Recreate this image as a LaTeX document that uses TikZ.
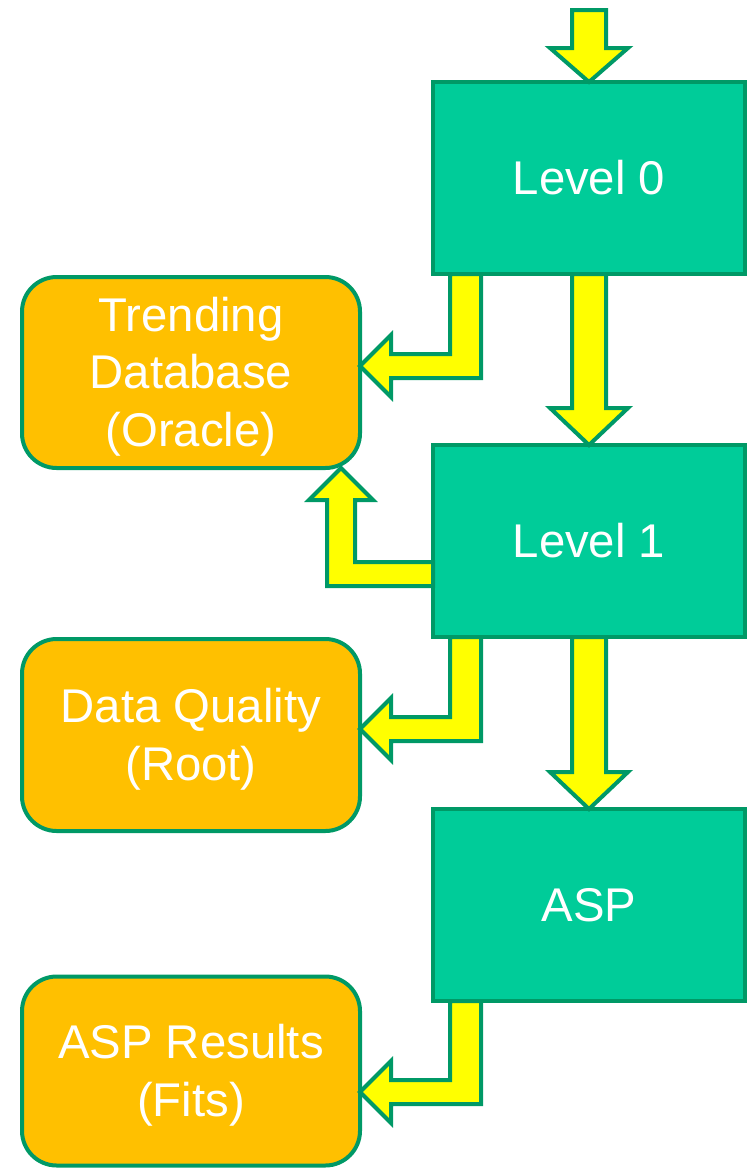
\documentclass[tikz,border=0pt]{standalone}
\usepackage{fontspec}
\setmainfont{Liberation Sans}
\usetikzlibrary{calc}
\definecolor{edgegreen}{RGB}{0,153,102}
\definecolor{boxgreen}{RGB}{0,204,153}
\definecolor{boxorange}{RGB}{255,192,0}
\definecolor{arrowyellow}{RGB}{255,255,0}
\newcommand{\toppad}{\rule{0pt}{32pt}}
\tikzset{
  procbox/.style={draw=edgegreen, fill=boxgreen, line width=3pt, inner sep=0pt, outer sep=0pt,
    minimum width=234pt, minimum height=144pt, text=white, align=center,
    font=\fontsize{35.5}{43}\selectfont},
  outbox/.style={draw=edgegreen, fill=boxorange, line width=3pt, inner sep=0pt, outer sep=0pt,
    rounded corners=26pt, minimum width=253.5pt, text=white, align=center,
    font=\fontsize{35.5}{43}\selectfont},
  yarrow/.style={draw=edgegreen, fill=arrowyellow, line width=3pt, line join=miter}
}
\begin{document}
\begin{tikzpicture}[x=0.75pt,y=-0.75pt]
\useasboundingbox (0,0) rectangle (752,1168);
% process boxes
\node[procbox] (l0) at (589,178) {Level 0};
\node[procbox] (l1) at (589,541) {Level 1};
\node[procbox] (asp) at (589,905) {ASP};
% output boxes
\node[outbox, minimum height=143.25pt] (trend) at (191,372.5) {\toppad Trending\\Database\\(Oracle)};
\node[outbox, minimum height=144pt] (dq) at (191,735) {\toppad Data Quality\\(Root)};
\node[outbox, minimum height=141.75pt] (aspr) at (191,1071) {\toppad ASP Results\\(Fits)};
% free end of input arrow
\coordinate (in) at (589,10);
% straight down arrows
\draw[yarrow] (l0.north) -- ++(-39,-34) -- ++(22,0) -- ($(in)+(-17,0)$) -- ($(in)+(17,0)$) -- ($(l0.north)+(17,-34)$) -- ++(22,0) -- cycle;
\draw[yarrow] (l1.north) -- ++(-39,-37) -- ++(22,0) -- ($(l0.south)+(-17,0)$) -- ($(l0.south)+(17,0)$) -- ($(l1.north)+(17,-37)$) -- ++(22,0) -- cycle;
\draw[yarrow] (asp.north) -- ++(-39,-37) -- ++(22,0) -- ($(l1.south)+(-17,0)$) -- ($(l1.south)+(17,0)$) -- ($(asp.north)+(17,-37)$) -- ++(22,0) -- cycle;
% elbow arrows into output boxes
\coordinate (e1) at ($(l0.south)+(0,92)$);
\coordinate (e2) at ($(l1.south)+(0,92)$);
\coordinate (e3) at ($(asp.south)+(0,91)$);
\coordinate (t1) at (trend.east |- e1);
\coordinate (t2) at (dq.east |- e2);
\coordinate (t3) at (aspr.east |- e3);
\draw[yarrow] (t1) -- ++(31,-31) -- ++(0,19) -- ($(e1)+(-139,-12)$) -- ($(l0.south)+(-139,0)$) -- ($(l0.south)+(-108,0)$) -- ($(e1)+(-108,12)$) -- ($(t1)+(31,12)$) -- ++(0,19) -- cycle;
\draw[yarrow] (t2) -- ++(31,-31) -- ++(0,19) -- ($(e2)+(-139,-12)$) -- ($(l1.south)+(-139,0)$) -- ($(l1.south)+(-108,0)$) -- ($(e2)+(-108,12)$) -- ($(t2)+(31,12)$) -- ++(0,19) -- cycle;
\draw[yarrow] (t3) -- ++(31,-31) -- ++(0,19) -- ($(e3)+(-139,-12)$) -- ($(asp.south)+(-139,0)$) -- ($(asp.south)+(-108,0)$) -- ($(e3)+(-108,12)$) -- ($(t3)+(31,12)$) -- ++(0,19) -- cycle;
% up arrow from Level 1 to Trending Database
\coordinate (u) at ($(trend.south east)+(-19,0)$);
\coordinate (ur) at ($(u)+(14,0)$);
\coordinate (ul) at ($(u)+(-14,0)$);
\coordinate (ua) at ($(l1.west)+(0,21)$);
\coordinate (ub) at ($(l1.west)+(0,45)$);
\draw[yarrow] (u) -- ++(32,32) -- ++(-18,0) -- (ur |- ua) -- (ua) -- (ub) -- (ul |- ub) -- ($(ul)+(0,32)$) -- ++(-18,0) -- cycle;
\end{tikzpicture}
\end{document}
